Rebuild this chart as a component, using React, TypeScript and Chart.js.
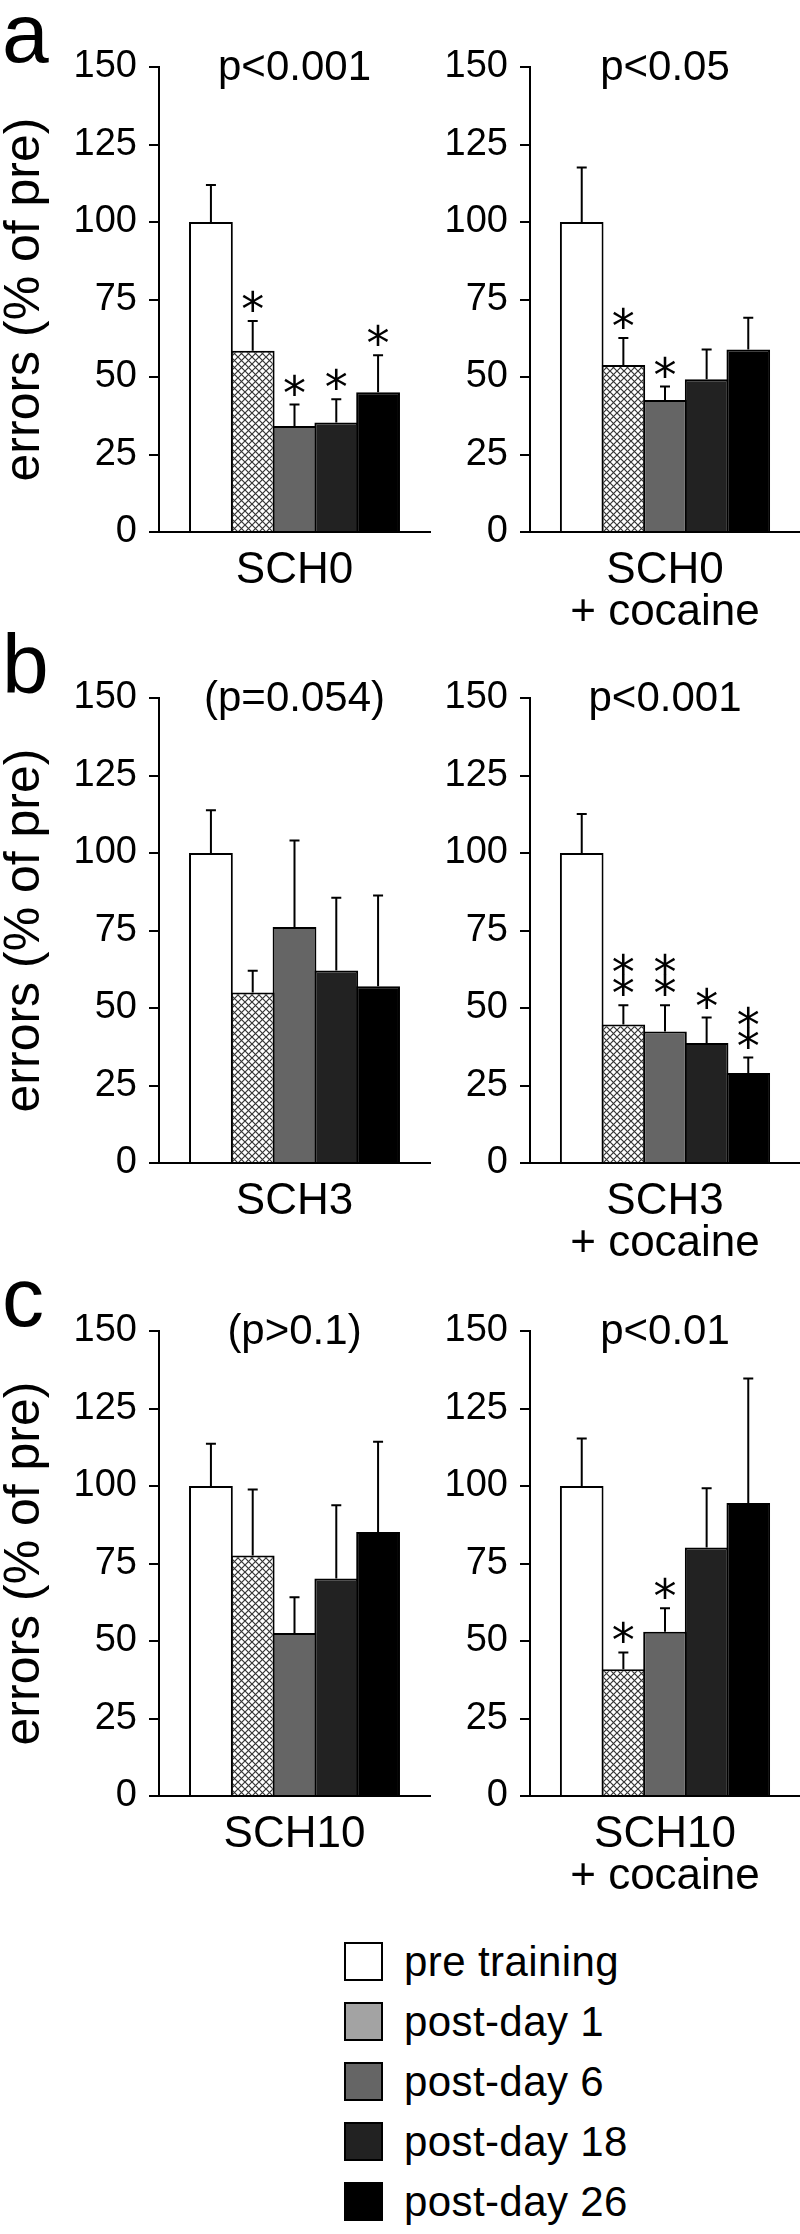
import React, { useEffect, useRef } from "react";
import { Chart, registerables } from "chart.js";

Chart.register(...registerables);

const FONT = "'Liberation Sans', Arial, Helvetica, sans-serif";
const STAR_FONT = "'DejaVu Sans', sans-serif";

// ---- data ----
const seriesNames = ["pre training", "post-day 1", "post-day 6", "post-day 18", "post-day 26"];
const yMin = 0;
const yMax = 150;
const yStep = 25;
const yTitle = "errors (% of pre)";

// panel a
const labelA1 = ["SCH0"];
const meanA1 = [100, 58.5, 34.2, 35.3, 45.1];
const semA1 = [11.9, 9.6, 6.9, 7.5, 11.9];
const starsA1 = [0, 1, 1, 1, 1];
const pA1 = "p<0.001";

const labelA2 = ["SCH0", "+ cocaine"];
const meanA2 = [100, 53.9, 42.6, 49.3, 58.9];
const semA2 = [17.6, 8.7, 4.3, 9.6, 10.2];
const starsA2 = [0, 1, 1, 0, 0];
const pA2 = "p<0.05";

// panel b
const labelB1 = ["SCH3"];
const meanB1 = [100, 55.0, 76.1, 62.1, 57.0];
const semB1 = [13.8, 7.0, 27.9, 23.5, 29.3];
const starsB1 = [0, 0, 0, 0, 0];
const pB1 = "(p=0.054)";

const labelB2 = ["SCH3", "+ cocaine"];
const meanB2 = [100, 44.7, 42.4, 38.7, 29.0];
const semB2 = [12.6, 6.2, 8.5, 8.2, 5.0];
const starsB2 = [0, 2, 2, 1, 2];
const pB2 = "p<0.001";

// panel c
const labelC1 = ["SCH10"];
const meanC1 = [100, 77.6, 52.6, 70.2, 85.2];
const semC1 = [13.6, 21.3, 11.5, 23.6, 29.1];
const starsC1 = [0, 0, 0, 0, 0];
const pC1 = "(p>0.1)";

const labelC2 = ["SCH10", "+ cocaine"];
const meanC2 = [100, 40.9, 53.0, 80.2, 94.5];
const semC2 = [15.3, 5.4, 7.6, 19.1, 40.2];
const starsC2 = [0, 1, 1, 0, 0];
const pC2 = "p<0.01";

const panelLetters = ["a", "b", "c"];

// ---- styles ----
const barFills = ["#ffffff", "HATCH", "#656565", "#222222", "#000000"];
const legendFills = ["#ffffff", "#a3a3a3", "#656565", "#222222", "#000000"];
const ROW_TOPS = [0, 631, 1264];

type PanelDef = {
  row: number;
  col: number;
  letter: string | null;
  title: string;
  label: string[];
  mean: number[];
  sem: number[];
  stars: number[];
};

const panels: PanelDef[] = [
  { row: 0, col: 0, letter: panelLetters[0], title: pA1, label: labelA1, mean: meanA1, sem: semA1, stars: starsA1 },
  { row: 0, col: 1, letter: null, title: pA2, label: labelA2, mean: meanA2, sem: semA2, stars: starsA2 },
  { row: 1, col: 0, letter: panelLetters[1], title: pB1, label: labelB1, mean: meanB1, sem: semB1, stars: starsB1 },
  { row: 1, col: 1, letter: null, title: pB2, label: labelB2, mean: meanB2, sem: semB2, stars: starsB2 },
  { row: 2, col: 0, letter: panelLetters[2], title: pC1, label: labelC1, mean: meanC1, sem: semC1, stars: starsC1 },
  { row: 2, col: 1, letter: null, title: pC2, label: labelC2, mean: meanC2, sem: semC2, stars: starsC2 },
];

function makeHatch(): CanvasPattern | string {
  const c = document.createElement("canvas");
  c.width = 7;
  c.height = 7;
  const g = c.getContext("2d");
  if (!g) return "#bbbbbb";
  g.fillStyle = "#ffffff";
  g.fillRect(0, 0, 7, 7);
  g.strokeStyle = "#353535";
  g.lineWidth = 1.2;
  g.beginPath();
  g.moveTo(-1, -1);
  g.lineTo(8, 8);
  g.moveTo(8, -1);
  g.lineTo(-1, 8);
  g.stroke();
  const pat = g.createPattern(c, "repeat");
  return pat || "#bbbbbb";
}

function makeAnnot(p: PanelDef) {
  return {
    id: "annot",
    afterDatasetsDraw(chart: any) {
      const ctx: CanvasRenderingContext2D = chart.ctx;
      const y = chart.scales.y;
      ctx.save();
      ctx.strokeStyle = "#000";
      ctx.fillStyle = "#000";
      ctx.lineWidth = 2;
      ctx.font = `46px ${STAR_FONT}`;
      ctx.textAlign = "center";
      ctx.textBaseline = "alphabetic";
      const m = ctx.measureText("*");
      const starShift = (m.actualBoundingBoxAscent - m.actualBoundingBoxDescent) / 2;
      chart.data.datasets.forEach((_ds: any, i: number) => {
        const bar = chart.getDatasetMeta(i).data[0];
        if (!bar) return;
        const x = bar.x;
        const yBar = bar.y;
        const yTop = y.getPixelForValue(p.mean[i] + p.sem[i]);
        ctx.beginPath();
        ctx.moveTo(x, yBar);
        ctx.lineTo(x, yTop);
        ctx.moveTo(x - 5, yTop);
        ctx.lineTo(x + 5, yTop);
        ctx.stroke();
        for (let k = 0; k < p.stars[i]; k++) {
          const cy = yTop - 20 - 21 * k;
          ctx.fillText("*", x, cy + starShift);
        }
      });
      ctx.restore();
    },
    afterDraw(chart: any) {
      const ctx: CanvasRenderingContext2D = chart.ctx;
      const area = chart.chartArea;
      ctx.save();
      ctx.fillStyle = "#000";
      ctx.textBaseline = "alphabetic";
      ctx.textAlign = "center";
      ctx.font = `42px ${FONT}`;
      ctx.fillText(p.title, (area.left + area.right) / 2, 80);
      if (p.letter) {
        ctx.textAlign = "left";
        ctx.font = `84px ${FONT}`;
        ctx.fillText(p.letter, 2, 62);
      }
      ctx.restore();
    },
  };
}

function PanelChart({ p }: { p: PanelDef }) {
  const ref = useRef<HTMLCanvasElement | null>(null);
  const isLeft = p.col === 0;
  const width = isLeft ? 440 : 400;
  const height = 640;
  useEffect(() => {
    if (!ref.current) return;
    const hatch = makeHatch();
    const chart = new Chart(ref.current, {
      type: "bar",
      data: {
        labels: [p.label],
        datasets: seriesNames.map((name, i) => ({
          label: name,
          data: [p.mean[i]],
          backgroundColor: barFills[i] === "HATCH" ? (hatch as any) : barFills[i],
          borderColor: "#000000",
          borderWidth: 2,
          borderSkipped: "start",
        })),
      },
      options: {
        responsive: false,
        maintainAspectRatio: false,
        animation: false,
        devicePixelRatio: 1,
        events: [],
        layout: { padding: { top: 67, right: isLeft ? 10 : 0, left: 0, bottom: 0 } },
        datasets: { bar: { categoryPercentage: 0.771, barPercentage: 1.048 } },
        plugins: {
          legend: { display: false },
          tooltip: { enabled: false },
          title: { display: false },
        },
        scales: {
          x: {
            z: 1,
            grid: { display: false, drawTicks: false },
            border: { display: true, color: "#000", width: 2 },
            ticks: {
              color: "#000",
              font: { family: FONT, size: 44, lineHeight: "42px" },
              padding: 18,
              maxRotation: 0,
              autoSkip: false,
            },
            afterFit: (s: any) => {
              s.height = 108;
            },
          },
          y: {
            min: yMin,
            max: yMax,
            ticks: { stepSize: yStep, color: "#000", font: { family: FONT, size: 38 }, padding: 12 },
            grid: { drawOnChartArea: false, drawTicks: true, tickLength: 10, color: "#000", lineWidth: 2 },
            border: { display: true, color: "#000", width: 2 },
            title: isLeft
              ? {
                  display: true,
                  text: yTitle,
                  color: "#000",
                  font: { family: FONT, size: 50, lineHeight: 1 },
                  padding: { top: 0, bottom: 0 },
                }
              : { display: false },
            afterFit: (s: any) => {
              s.width = isLeft ? 159 : 130;
            },
          },
        },
      } as any,
      plugins: [makeAnnot(p) as any],
    });
    return () => chart.destroy();
  }, []);
  return (
    <canvas
      ref={ref}
      width={width}
      height={height}
      style={{
        position: "absolute",
        left: isLeft ? 0 : 400,
        top: ROW_TOPS[p.row],
        width,
        height,
      }}
    />
  );
}

export default function App() {
  return (
    <div
      style={{
        position: "absolute",
        left: 0,
        top: 0,
        width: 800,
        height: 2234,
        background: "#ffffff",
        overflow: "hidden",
      }}
    >
      {panels.map((p, i) => (
        <PanelChart key={i} p={p} />
      ))}
      {seriesNames.map((name, i) => (
        <React.Fragment key={name}>
          <div
            style={{
              position: "absolute",
              left: 344,
              top: 1942 + 60 * i,
              width: 39,
              height: 39,
              boxSizing: "border-box",
              border: "2px solid #000",
              background: legendFills[i],
            }}
          />
          <div
            style={{
              position: "absolute",
              left: 404,
              top: 1942 + 60 * i,
              height: 39,
              lineHeight: "39px",
              fontSize: 42,
              letterSpacing: "0.4px",
              fontFamily: FONT,
              color: "#000",
              whiteSpace: "nowrap",
            }}
          >
            {name}
          </div>
        </React.Fragment>
      ))}
    </div>
  );
}
